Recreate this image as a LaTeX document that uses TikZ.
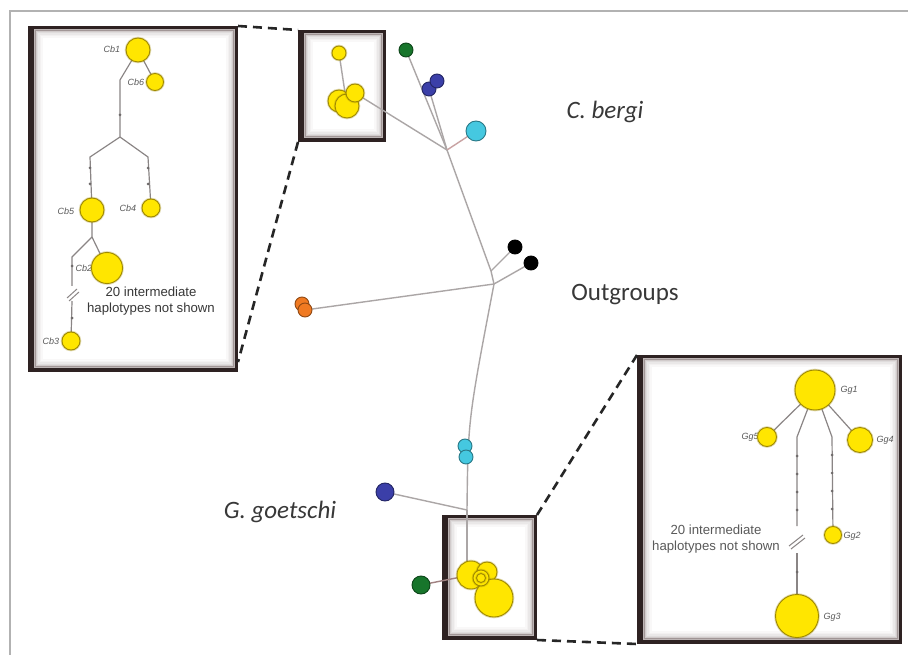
\documentclass[tikz,border=0pt]{standalone}
\usepackage{fontspec}
\setmainfont{Carlito}
\newfontfamily\arialf{Liberation Sans}
\usetikzlibrary{calc}
\pgfdeclarelayer{back}
\pgfdeclarelayer{bg}
\pgfdeclarelayer{mid}
\pgfsetlayers{back,bg,mid,main}
\definecolor{hy}{HTML}{FFE600}
\definecolor{hyedge}{HTML}{A08A00}
\definecolor{hgreen}{HTML}{17752B}
\definecolor{hblue}{HTML}{3B3FA8}
\definecolor{hcyan}{HTML}{45C8E0}
\definecolor{horange}{HTML}{F07A22}
\definecolor{boxdark}{HTML}{2E2222}
\definecolor{shadec}{HTML}{5A4646}
\definecolor{linkgray}{HTML}{ABA6A6}
\definecolor{ilinkgray}{HTML}{8A8585}
\definecolor{pinklink}{HTML}{C9A3A3}
\definecolor{txtgray}{HTML}{383838}
\definecolor{notegray}{HTML}{5A5A5A}
\newcommand\hbframe[1]{%
  \fill[white] ($(#1.north west)+(6,3)$) rectangle ($(#1.south east)+(-3,-4)$);
  \foreach \i/\o in {0.8/0.40,2.2/0.28,3.6/0.19,5/0.12,6.4/0.07,7.8/0.035}{%
    \draw[shadec, opacity=\o, line width=1.5pt]
      ($(#1.north west)+(6+\i,3+\i)$) rectangle ($(#1.south east)+(-3-\i,-4-\i)$);}
}
\begin{document}
\begin{tikzpicture}[x=1pt,y=-1pt,
  frame/.style={rectangle, inner sep=0pt, outer sep=0pt, fill=boxdark, draw=none},
  hapbase/.style={circle, inner sep=0pt, outer sep=0pt, line width=0.9pt, minimum size=#1},
  yhap/.style={hapbase=#1, fill=hy, draw=hyedge, preaction={draw=hyedge, line width=2.6pt, opacity=0.3}},
  ghap/.style={hapbase=#1, fill=hgreen, draw=hgreen!60!black},
  bhap/.style={hapbase=#1, fill=hblue, draw=hblue!60!black},
  chap/.style={hapbase=#1, fill=hcyan, draw=hcyan!60!black},
  ohap/.style={hapbase=#1, fill=horange, draw=horange!60!black},
  khap/.style={hapbase=#1, fill=black, draw=black},
  link/.style={draw=linkgray, line width=1.4pt},
  ilink/.style={draw=ilinkgray, line width=1.2pt},
  tickc/.style={fill=ilinkgray!80!black},
  brk/.style={draw=ilinkgray, line width=1pt},
  zoomdash/.style={draw=black!85, line width=2.6pt, dash pattern=on 9pt off 6pt},
  spec/.style={text=txtgray, inner sep=0pt, font=\fontsize{25}{30}\selectfont},
  hlabel/.style={text=notegray, inner sep=0pt, font=\arialf\itshape\fontsize{9}{10}\selectfont},
  note/.style={align=center, inner sep=0pt, font=\arialf\fontsize{13.2}{15.5}\selectfont}
]
\useasboundingbox (0,0) rectangle (908,655);
\begin{pgfonlayer}{back}
\fill[white] (0,0) rectangle (908,655);
\end{pgfonlayer}
\draw[gray!60, line width=1.6pt] (10,662) -- (10,11) -- (915,11);

% ---------- frames ----------
\begin{pgfonlayer}{bg}
\node[frame, minimum width=210, minimum height=346] (boxL) at (133,199) {};
\hbframe{boxL}
\node[frame, minimum width=88, minimum height=112] (boxS) at (342,86) {};
\hbframe{boxS}
\node[frame, minimum width=95, minimum height=125] (boxB) at (489.5,577.5) {};
\hbframe{boxB}
\node[frame, minimum width=265, minimum height=289] (boxR) at (769.5,499.5) {};
\hbframe{boxR}
\end{pgfonlayer}

% ---------- zoom dashes ----------
\draw[zoomdash] (boxL.north east) -- (boxS.north west);
\draw[zoomdash] (boxS.south west) -- ($(boxL.south east)+(0,-10)$);
\draw[zoomdash] (boxB.north east) -- (boxR.north west);
\draw[zoomdash] (boxB.south east) -- (boxR.south west);

% ---------- main network nodes ----------
\node[yhap=14] (y1) at (339,53) {};
\node[yhap=22] (y2) at (339,101) {};
\node[yhap=24] (y3) at (347,106) {};
\node[yhap=18] (y4) at (355,93) {};
\node[ghap=14] (g1) at (406,50) {};
\node[bhap=14] (b1) at (429,89) {};
\node[bhap=14] (b2) at (437,81) {};
\node[chap=20] (c1) at (476,131) {};
\node[khap=14] (k1) at (515,247) {};
\node[khap=14] (k2) at (531,263) {};
\node[ohap=14] (o1) at (302,304) {};
\node[ohap=14] (o2) at (305,310) {};
\node[chap=14] (c2) at (465,446) {};
\node[chap=14] (c3) at (466,457) {};
\node[bhap=18] (b3) at (385,492) {};
\node[ghap=18] (g2) at (421,585) {};
\node[yhap=28] (e1) at (471,575) {};
\node[yhap=20] (e3) at (487,572) {};
\node[yhap=38] (e2) at (494,598) {};
\node[yhap=16] (e4) at (481,578) {};
\node[yhap=9] (e5) at (481,578) {};

\coordinate (A) at (447,150);
\coordinate (B) at (491,271);
\coordinate (C) at (494,284);
\coordinate (D) at (467,510);
\coordinate (E) at (467,566);

\begin{pgfonlayer}{mid}
\draw[link] (y1.center) -- (y3.center);
\draw[link] (y4.center) -- (A);
\draw[link] (g1.center) -- (A);
\draw[link] (b1.center) -- (A);
\draw[link, draw=pinklink] (c1.center) -- (A);
\draw[link] (A) -- (B) -- (C);
\draw[link] (k1.center) -- (B);
\draw[link] (k2.center) -- (C);
\draw[link] (o2.center) -- (C);
\draw[link] (C) .. controls (468,420) .. (D);
\draw[link] (b3.center) -- (D);
\draw[link] (D) -- (E);
\draw[link, draw=pinklink!80!black] (g2.center) -- (e1.center);
\end{pgfonlayer}

% ---------- right inset (G. goetschi) ----------
\node[yhap=40] (Gg1) at (815,390) {};
\node[yhap=19] (Gg5) at (767,437) {};
\node[yhap=25] (Gg4) at (860,440) {};
\node[yhap=17] (Gg2) at (833,535) {};
\node[yhap=43] (Gg3) at (797,616) {};
\coordinate (r1) at (797,437);
\coordinate (r2) at (832,437);
\coordinate (rbt) at (797,526);
\coordinate (rbb) at (797,553);
\coordinate (rb) at (797,540);
\begin{pgfonlayer}{mid}
\draw[ilink] (Gg1.center) -- (Gg5.center);
\draw[ilink] (Gg1.center) -- (Gg4.center);
\draw[ilink] (Gg1.center) -- (r1) -- (rbt);
\draw[ilink] (rbb) -- (Gg3.center);
\draw[ilink] (Gg1.center) -- (r2) -- (Gg2.center);
\foreach \yy in {456,474,492,510,572} \fill[tickc] (797,\yy) circle (1.5);
\foreach \yy in {455,473,491,509} \fill[tickc] (832,\yy) circle (1.5);
\draw[brk] ($(rb)+(-8,6)$) -- ++(14,-11) ($(rb)+(-6,9)$) -- ++(14,-11);
\node[hlabel] (lGg1) at (849,390) {Gg1};
\node[hlabel] (lGg5) at (750,437) {Gg5};
\node[hlabel] (lGg4) at (885,440) {Gg4};
\node[hlabel] (lGg2) at (852,536) {Gg2};
\node[hlabel] (lGg3) at (832,617) {Gg3};
\end{pgfonlayer}
\node[note, text=notegray] (nR) at (716,539) {20 intermediate\\haplotypes not shown};

% ---------- left inset (C. bergi) ----------
\node[yhap=24] (Cb1) at (138,50) {};
\node[yhap=17] (Cb6) at (155,82) {};
\node[yhap=24] (Cb5) at (92,210) {};
\node[yhap=18] (Cb4) at (151,208) {};
\node[yhap=31] (Cb2) at (107,268) {};
\node[yhap=18] (Cb3) at (71,341) {};
\coordinate (l1) at (120,80);
\coordinate (J1) at (120,137);
\coordinate (l2) at (90,157);
\coordinate (l3) at (148,157);
\coordinate (J2) at (92,237);
\coordinate (l4) at (72,257);
\coordinate (lbt) at (72,286);
\coordinate (lbb) at (72,301);
\coordinate (lb) at (73,293);
\begin{pgfonlayer}{mid}
\draw[ilink] (Cb1.center) -- (l1) -- (J1) -- (l2) -- (Cb5.center);
\draw[ilink] (J1) -- (l3) -- (Cb4.center);
\draw[ilink] (Cb1.center) -- (Cb6.center);
\draw[ilink] (Cb5.center) -- (J2) -- (l4) -- (lbt);
\draw[ilink] (lbb) -- (Cb3.center);
\draw[ilink] (J2) -- (Cb2.center);
\foreach \p in {(120,115),(90,168),(90,184),(148,168),(148,184),(72,266),(72,318)} \fill[tickc] \p circle (1.5);
\draw[brk] ($(lb)+(-6,5)$) -- ++(10,-9) ($(lb)+(-4,8)$) -- ++(10,-9);
\node[hlabel] (lCb1) at (112,49) {Cb1};
\node[hlabel] (lCb6) at (136,82) {Cb6};
\node[hlabel] (lCb5) at (66,211) {Cb5};
\node[hlabel] (lCb4) at (128,208) {Cb4};
\node[hlabel] (lCb2) at (84,268) {Cb2};
\node[hlabel] (lCb3) at (51,341) {Cb3};
\end{pgfonlayer}
\node[note, text=txtgray] (nL) at (151,301) {20 intermediate\\haplotypes not shown};

% ---------- species labels ----------
\node[spec, font=\fontsize{25}{30}\selectfont\itshape] (tC) at (605,112) {C. bergi};
\node[spec] (tO) at (625,295) {Outgroups};
\node[spec, font=\fontsize{25}{30}\selectfont\itshape] (tG) at (280,512) {G. goetschi};
\end{tikzpicture}
\end{document}
